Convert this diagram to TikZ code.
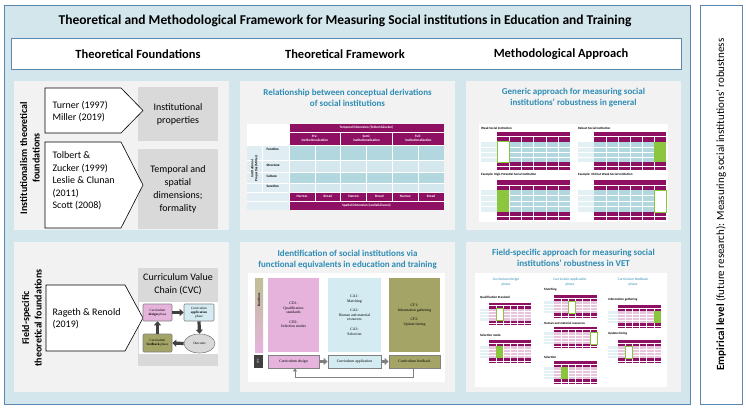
\documentclass[tikz,border=0pt]{standalone}
\usepackage{fontspec}
\setmainfont{Carlito}
\newfontfamily\serifsm{Liberation Serif}
\usetikzlibrary{arrows.meta,shapes.geometric,shapes.arrows}
\definecolor{outerblue}{HTML}{D2E6EC}
\definecolor{outerline}{HTML}{5B86B0}
\definecolor{panelgray}{HTML}{F2F2F2}
\definecolor{boxgray}{HTML}{D9D9D9}
\definecolor{purp}{HTML}{8E1063}
\definecolor{tealcell}{HTML}{B3D7DF}
\definecolor{lightcell}{HTML}{D3E7ED}
\definecolor{tealtitle}{HTML}{2E8CB5}
\definecolor{pinkb}{HTML}{E6B3DD}
\definecolor{lblue}{HTML}{D3EBF1}
\definecolor{olive}{HTML}{A3A466}
\definecolor{pinkcell}{HTML}{E7C6DD}
\definecolor{hlgreen}{HTML}{8CC63F}
\definecolor{darkarr}{HTML}{404040}
\newcommand\tinyf{\fontsize{3.4}{4}\selectfont}
\newcommand\mtab[7]{%
\begin{scope}[shift={(#1,#2)}]
 \pgfmathsetmacro\W{#3}\pgfmathsetmacro\H{#4}
 \pgfmathsetmacro\lx{0.18*\W}\pgfmathsetmacro\cw{(\W-\lx)/6}
 \fill[lightcell!60] (0,{0.25*\H}) rectangle ({\lx},{0.8*\H});
 \fill[purp] ({\lx},0) rectangle ({\W},{0.25*\H});
 \fill[#5] ({\lx},{0.25*\H}) rectangle ({\W},{0.8*\H});
 \foreach \r in {1,2,3}{\draw[white,line width=0.4pt] (0,{0.25*\H+\r*0.1375*\H}) -- ({\W},{0.25*\H+\r*0.1375*\H});}
 \fill[purp] ({\lx},{0.8*\H}) rectangle ({\W},{\H});
 \foreach \c in {1,...,5}{\draw[white,line width=0.3pt] ({\lx+\c*\cw},{0.12*\H}) -- ({\lx+\c*\cw},{\H});}
 \draw[white,line width=0.3pt] ({\lx},{0.12*\H}) -- ({\W},{0.12*\H});
 \draw[white,line width=0.3pt] ({\lx},{0.9*\H}) -- ({\W},{0.9*\H});
 \ifnum#6>0 \path[#7] ({\lx+(#6-1)*\cw},{0.25*\H}) rectangle ({\lx+#6*\cw},{0.8*\H});\fi
\end{scope}}
\begin{document}
\begin{tikzpicture}[x=1pt,y=-1pt,
  panel/.style={fill=panelgray,draw=none},
  pent/.style={draw=black,fill=white,line width=0.6pt},
  gbox/.style={fill=boxgray,draw=none},
  ttl/.style={font=\bfseries\fontsize{9}{11}\selectfont,text=tealtitle,align=center},
  body/.style={font=\fontsize{10}{12.5}\selectfont,align=left,anchor=west},
  gtext/.style={font=\fontsize{10}{12.8}\selectfont,align=center},
  rot/.style={rotate=90,font=\bfseries\fontsize{10}{12.5}\selectfont,align=center},
  cyc/.style={draw=gray,line width=0.6pt,rounded corners=1pt,font=\serifsm\tinyf,align=center,inner sep=0pt},
  fat/.style={draw=darkarr,line width=3.2pt,-{Triangle[width=7pt,length=4pt]}},
  fbox/.style={draw=none,font=\serifsm\fontsize{3.8}{4.6}\selectfont,align=center},
  cvc/.style={draw=gray,line width=0.8pt,font=\serifsm\fontsize{3.8}{4.6}\selectfont},
  mlab/.style={font=\bfseries\fontsize{3.2}{4}\selectfont,anchor=west,inner sep=0pt},
  mhead/.style={font=\fontsize{3.6}{4.2}\selectfont,text=tealtitle,align=center}]
\useasboundingbox (0,0) rectangle (746,412);
% outer panels
\draw[fill=outerblue,draw=outerline,line width=0.8pt] (4,5) rectangle (690,404);
\draw[fill=white,draw=outerline,line width=0.8pt] (700,5) rectangle (742,404);
\node[rotate=90,font=\fontsize{11}{13}\selectfont] (emp) at (721,204.5) {\textbf{Empirical level} (future research): Measuring social institutions’ robustness};
\node[font=\bfseries\fontsize{13.5}{16}\selectfont] (title) at (345,21) {Theoretical and Methodological Framework for Measuring Social institutions in Education and Training};
\draw[fill=white,draw=outerline,line width=0.7pt] (11,38) rectangle (681,69);
\node[font=\bfseries\fontsize{12.5}{15}\selectfont] (h1) at (138,54) {Theoretical Foundations};
\node[font=\bfseries\fontsize{12.5}{15}\selectfont] (h2) at (345,54) {Theoretical Framework};
\node[font=\bfseries\fontsize{12.5}{15}\selectfont] (h3) at (561,54) {Methodological Approach};
% panels
\fill[panelgray] (14,81) rectangle (229,230);
\fill[panelgray] (240,81) rectangle (455,230);
\fill[panelgray] (466,81) rectangle (681,230);
\fill[panelgray] (14,242) rectangle (229,392);
\fill[panelgray] (240,242) rectangle (455,392);
\fill[panelgray] (466,242) rectangle (681,392);
% ---- column 1 top
\node[rot] (inst) at (30,158) {Institutionalism theoretical\\foundations};
\fill[gbox] (138,87) rectangle (218,141);
\fill[gbox] (138,149) rectangle (218,229);
\draw[pent] (45,88) -- (121,88) -- (143,110.5) -- (121,133) -- (45,133) -- cycle;
\draw[pent] (45,142) -- (121,142) -- (143,185) -- (121,228) -- (45,228) -- cycle;
\node[body] (t1) at (49,111.5) {Turner (1997)\\Miller (2019)};
\node[gtext] (g1) at (178,114) {Institutional\\properties};
\node[body] (t2) at (49,181) {Tolbert \&\\Zucker (1999)\\Leslie \& Clunan\\(2011)\\Scott (2008)};
\node[gtext] (g2) at (178,189.5) {Temporal and\\spatial\\dimensions;\\formality};
% ---- column 1 bottom
\node[rot] (fld) at (32,318) {Field-specific\\theoretical foundations};
\fill[gbox] (138,268) rectangle (218,366);
\node[gtext] (cvc) at (178,284) {Curriculum Value\\Chain (CVC)};
\fill[white] (139,302) rectangle (218,354);
\draw[pent] (46,285) -- (125,285) -- (143,318) -- (125,351) -- (46,351) -- cycle;
\node[body] (rr) at (49,318.5) {Rageth \& Renold\\(2019)};
\node[cyc,fill=pinkb,minimum width=29pt,minimum height=17pt] (cd) at (157.5,312.5) {Curriculum\\\textbf{design} phase};
\node[cyc,fill=lblue,minimum width=30pt,minimum height=17pt] (ca) at (199,312.5) {Curriculum\\\textbf{application}\\phase};
\node[cyc,fill=olive,minimum width=29pt,minimum height=18pt] (cf) at (157.5,343) {Curriculum\\\textbf{feedback} phase};
\node[cyc,ellipse,fill=boxgray,minimum width=31pt,minimum height=19pt] (oc) at (199.5,343.5) {Outcome};
\draw[fat] (cd.east) -- (ca.west);
\draw[fat] (ca.south) -- (oc.north);
\draw[fat] (oc.west) -- (cf.east);
\draw[fat] (cf.north) -- (cd.south);
% ---- column 2 top
\node[ttl] (rel) at (347.5,98) {Relationship between conceptual derivations\\of social institutions};
\begin{scope}
\fill[white] (247,124) rectangle (289,145);
\fill[lightcell!70] (247,145) rectangle (289,210);
\fill[purp] (289,124) rectangle (444,145);
\fill[tealcell] (289,145) rectangle (444,160);
\fill[lightcell] (289,160) rectangle (444,172);
\fill[tealcell] (289,172) rectangle (444,183);
\fill[lightcell] (289,183) rectangle (444,192);
\fill[purp] (289,192) rectangle (444,210);
\foreach \y in {132,145,160,172,183,192,201}{\draw[white,line width=0.6pt] (247,\y) -- (444,\y);}
\foreach \x in {314.8,340.7,366.5,392.3,418.2}{\draw[white,line width=0.6pt] (\x,145) -- (\x,201);}
\foreach \x in {289,340.7,392.3}{\draw[white,line width=0.6pt] (\x,132) -- (\x,145);}
\draw[white,line width=0.6pt] (289,124) -- (289,210);
\draw[white,line width=0.6pt] (262,145) -- (262,192);
\end{scope}
\node[font=\bfseries\tinyf,text=white] (td) at (366.5,128) {Temporal Dimension (Tolbert\&Zucker)};
\node[font=\bfseries\tinyf,text=white,align=center] (pre) at (314.8,138.5) {Pre-\\institutionalization};
\node[font=\bfseries\tinyf,text=white,align=center] (semi) at (366.5,138.5) {Semi-\\institutionalization};
\node[font=\bfseries\tinyf,text=white,align=center] (full) at (418.2,138.5) {Full-\\institutionalization};
\node[font=\bfseries\tinyf,anchor=west] (rf) at (263,149) {Function};
\node[font=\bfseries\tinyf,anchor=west] (rs) at (263,165) {Structure};
\node[font=\bfseries\tinyf,anchor=west] (rc) at (263,176) {Culture};
\node[font=\bfseries\tinyf,anchor=west] (rsa) at (263,186.5) {Sanction};
\node[font=\bfseries\tinyf,rotate=90,align=center] (ip) at (254.5,168.5) {Institutional\\Properties (Miller)};
\foreach \x/\t [count=\i] in {302/Narrow,327.8/Broad,353.6/Narrow,379.4/Broad,405.3/Narrow,431.1/Broad}{\node[font=\bfseries\tinyf,text=white] (nb\i) at (\x,196.5) {\t};}
\node[font=\bfseries\tinyf,text=white] (sd) at (366.5,205.5) {Spatial Dimension (Leslie\&Clunan)};
% ---- column 3 top
\node[ttl] (gen) at (573.5,98) {Generic approach for measuring social\\institutions’ robustness in general};
\fill[white] (479,124) rectangle (668,222);
\node[mlab] (w1) at (481,128) {Weak Social Institution};
\node[mlab] (w2) at (578,128) {Robust Social Institution};
\node[mlab] (w3) at (481,175) {Example: High-Potential Social Institution};
\node[mlab] (w4) at (578,175) {Example: Old but Weak Social Institution};
\mtab{481}{132}{89}{38}{tealcell}{1}{fill=white,draw=hlgreen,line width=0.5pt}
\mtab{578}{132}{88}{38}{tealcell}{6}{fill=hlgreen}
\mtab{481}{180}{89}{40}{tealcell}{1}{fill=hlgreen}
\mtab{578}{180}{88}{40}{tealcell}{6}{fill=white,draw=hlgreen,line width=0.5pt}
% ---- column 2 bottom
\node[ttl] (ident) at (347.5,260) {Identification of social institutions via\\functional equivalents in education and training};
\fill[white] (248,273) rectangle (445,382);
\shade[top color=olive!70,bottom color=pinkb] (255,278) rectangle (263,352);
\node[font=\bfseries\fontsize{3.4}{4}\selectfont,rotate=90] (fn) at (259,300) {Functions};
\node[fbox,fill=pinkb,minimum width=51pt,minimum height=74pt] (fd) at (293.5,315) {CD1:\\Qualification\\standards\\[5pt]CD2:\\Selection modes};
\node[fbox,fill=lblue,minimum width=53pt,minimum height=74pt] (fa) at (354.5,315) {CA1:\\Matching\\[5pt]CA2:\\Human and material\\resources\\[5pt]CA3:\\Selection};
\node[fbox,fill=olive,minimum width=51pt,minimum height=74pt] (ff) at (414.5,315) {CF1:\\Information gathering\\[5pt]CF2:\\Update timing};
\node[fill=darkarr,minimum width=13pt,minimum height=9pt,inner sep=0pt,font=\fontsize{3}{4}\selectfont,text=white,rotate=90] (cvcb) at (258,361.5) {CVC};
\node[cvc,fill=pinkb,minimum width=51pt,minimum height=13pt] (bd) at (293.5,361.5) {Curriculum design};
\node[cvc,fill=lblue,minimum width=53pt,minimum height=13pt] (ba) at (354.5,361.5) {Curriculum application};
\node[cvc,fill=olive,minimum width=51pt,minimum height=13pt] (bf) at (414.5,361.5) {Curriculum feedback};
\draw[draw=gray,line width=3pt,-{Triangle[width=7pt,length=4pt]}] (bd.east) -- (ba.west);
\draw[draw=gray,line width=3pt,-{Triangle[width=7pt,length=4pt]}] (ba.east) -- (bf.west);
\coordinate (lpa) at (413,377);
\coordinate (lpb) at (295,377);
\draw[draw=gray,line width=1pt,-{Triangle[width=4pt,length=3pt]}] (bf.south -| lpa) -- (lpa) -- (lpb) -- (bd.south -| lpb);
% ---- column 3 bottom
\node[ttl] (fs) at (573.5,258) {Field-specific approach for measuring social\\institutions’ robustness in VET};
\fill[white] (475,273) rectangle (667,387);
\node[mhead] (p1) at (506,282) {Curriculum design\\phase};
\node[mhead] (p2) at (570,282) {Curriculum application\\phase};
\node[mhead] (p3) at (633,282) {Curriculum feedback\\phase};
\node[mlab] (q1) at (480,298) {Qualification Standard};
\mtab{480}{303}{51}{22}{pinkcell}{2}{fill=white,draw=hlgreen,line width=0.4pt}
\node[mlab] (q2) at (480,335) {Selection mode};
\mtab{480}{340}{51}{23}{pinkcell}{2}{fill=hlgreen}
\node[mlab] (q3) at (544,290) {Matching};
\mtab{544}{295}{53}{23}{pinkcell}{3}{fill=white,draw=hlgreen,line width=0.4pt}
\node[mlab] (q4) at (544,323) {Human and material resources};
\mtab{544}{327}{53}{21}{pinkcell}{6}{fill=white,draw=hlgreen,line width=0.4pt}
\node[mlab] (q5) at (544,357) {Selection};
\mtab{544}{361}{53}{23}{pinkcell}{2}{fill=hlgreen}
\node[mlab] (q6) at (608,300) {Information gathering};
\mtab{608}{305}{53}{23}{pinkcell}{6}{fill=hlgreen}
\node[mlab] (q7) at (608,334) {Update timing};
\mtab{608}{340}{53}{23}{pinkcell}{2}{fill=white,draw=hlgreen,line width=0.4pt}
\end{tikzpicture}
\end{document}
